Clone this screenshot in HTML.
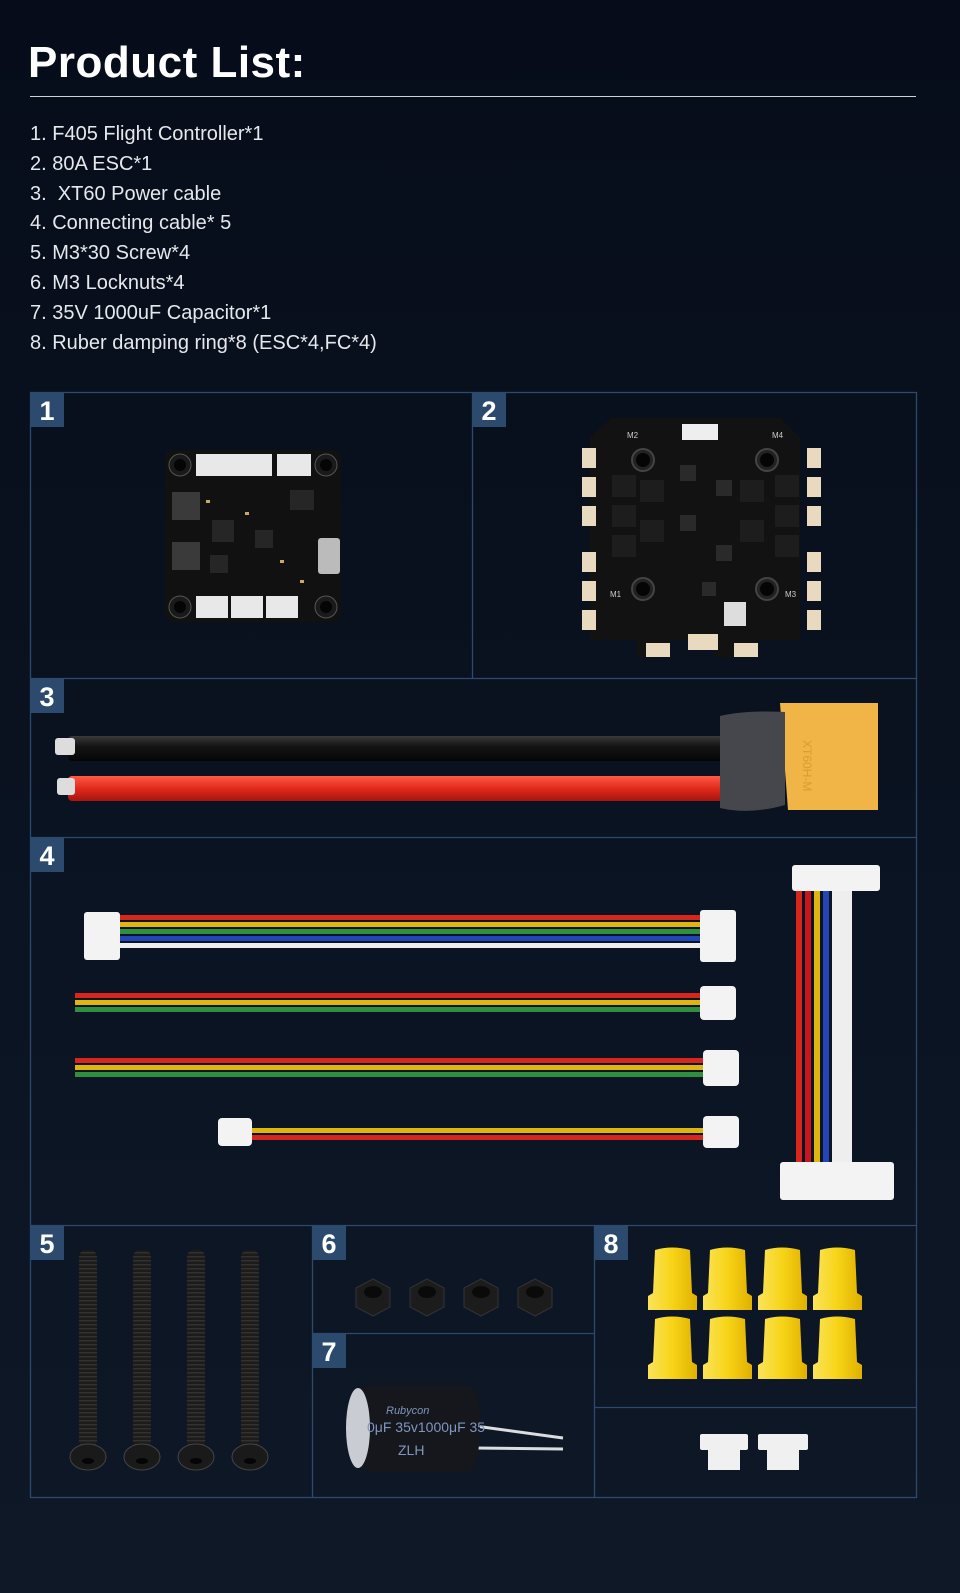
<!DOCTYPE html>
<html><head><meta charset="utf-8"><style>
html,body{margin:0;padding:0}
body{width:960px;height:1593px;background:linear-gradient(#060c1a,#0b1422 60%,#0e1827);font-family:"Liberation Sans",sans-serif;color:#fff;position:relative;overflow:hidden}
h1{position:absolute;left:28px;top:38px;margin:0;font-size:44px;font-weight:bold;letter-spacing:0.5px}
.rule{position:absolute;left:30px;top:96px;width:886px;height:1px;background:#cfd3d8}
ul{position:absolute;left:30px;top:120px;margin:0;padding:0;list-style:none;font-size:20px;color:#e6e8eb;line-height:29.8px}
svg{position:absolute;left:0;top:0}
</style></head><body>
<h1>Product List:</h1>
<div class="rule"></div>
<ul>
<li>1. F405 Flight Controller*1</li>
<li>2. 80A ESC*1</li>
<li>3.&nbsp; XT60 Power cable</li>
<li>4. Connecting cable* 5</li>
<li>5. M3*30 Screw*4</li>
<li>6. M3 Locknuts*4</li>
<li>7. 35V 1000uF Capacitor*1</li>
<li>8. Ruber damping ring*8 (ESC*4,FC*4)</li>
</ul>
<svg width="960" height="1593" viewBox="0 0 960 1593">
<defs>
<linearGradient id="bk" x1="0" y1="0" x2="0" y2="1"><stop offset="0" stop-color="#3a3a3a"/><stop offset=".4" stop-color="#151515"/><stop offset="1" stop-color="#050505"/></linearGradient>
<linearGradient id="rd" x1="0" y1="0" x2="0" y2="1"><stop offset="0" stop-color="#ff5a45"/><stop offset=".5" stop-color="#e2291b"/><stop offset="1" stop-color="#a5150c"/></linearGradient>
<linearGradient id="yl" x1="0" y1="0" x2="1" y2="0"><stop offset="0" stop-color="#fbe35a"/><stop offset=".5" stop-color="#f7d417"/><stop offset="1" stop-color="#e0b000"/></linearGradient>
<pattern id="thr" width="6" height="4" patternUnits="userSpaceOnUse"><rect width="6" height="4" fill="#1b1b1b"/><rect y="0" width="6" height="1.5" fill="#34312d"/></pattern>
</defs>
<g fill="none" stroke="#2c4a70" stroke-width="1.3">
<rect x="30.5" y="392.5" width="886" height="1105"/>
<line x1="30" y1="678.5" x2="916" y2="678.5"/>
<line x1="30" y1="837.5" x2="916" y2="837.5"/>
<line x1="30" y1="1225.5" x2="916" y2="1225.5"/>
<line x1="472.5" y1="392" x2="472.5" y2="678"/>
<line x1="312.5" y1="1225" x2="312.5" y2="1497"/>
<line x1="594.5" y1="1225" x2="594.5" y2="1497"/>
<line x1="312" y1="1333.5" x2="594" y2="1333.5"/>
<line x1="594" y1="1407.5" x2="916" y2="1407.5"/>
</g>
<g fill="#2c4a6e">
<rect x="31" y="393" width="33" height="34"/><rect x="473" y="393" width="33" height="34"/>
<rect x="31" y="679" width="33" height="34"/><rect x="31" y="838" width="33" height="34"/>
<rect x="31" y="1226" width="33" height="34"/><rect x="313" y="1226" width="33" height="34"/>
<rect x="313" y="1334" width="33" height="34"/><rect x="595" y="1226" width="33" height="34"/>
</g>
<g fill="#fff" font-size="27" font-weight="bold" text-anchor="middle">
<text x="47" y="420">1</text><text x="489" y="420">2</text><text x="47" y="706">3</text><text x="47" y="865">4</text>
<text x="47" y="1253">5</text><text x="329" y="1253">6</text><text x="329" y="1361">7</text><text x="611" y="1253">8</text>
</g>
<!-- FC board -->
<g>
<rect x="165" y="450" width="176" height="172" rx="8" fill="#111"/>
<g fill="#1a1a1a" stroke="#555"><circle cx="180" cy="465" r="11"/><circle cx="326" cy="465" r="11"/><circle cx="180" cy="607" r="11"/><circle cx="326" cy="607" r="11"/></g>
<g fill="#050505"><circle cx="180" cy="465" r="6"/><circle cx="326" cy="465" r="6"/><circle cx="180" cy="607" r="6"/><circle cx="326" cy="607" r="6"/></g>
<rect x="196" y="454" width="76" height="22" fill="#e8e8e8"/><rect x="277" y="454" width="34" height="22" fill="#e8e8e8"/>
<rect x="196" y="596" width="32" height="22" fill="#e8e8e8"/><rect x="231" y="596" width="32" height="22" fill="#e8e8e8"/><rect x="266" y="596" width="32" height="22" fill="#e8e8e8"/>
<rect x="172" y="492" width="28" height="28" fill="#3a3a3a"/><rect x="172" y="542" width="28" height="28" fill="#3a3a3a"/>
<rect x="318" y="538" width="22" height="36" rx="3" fill="#bbb"/>
<g fill="#262626"><rect x="212" y="520" width="22" height="22"/><rect x="255" y="530" width="18" height="18"/><rect x="290" y="490" width="24" height="20"/><rect x="210" y="555" width="18" height="18"/></g>
<g fill="#c9a86a"><rect x="206" y="500" width="4" height="3"/><rect x="245" y="512" width="4" height="3"/><rect x="280" y="560" width="4" height="3"/><rect x="300" y="580" width="4" height="3"/></g>
</g>
<!-- ESC -->
<g>
<path d="M611 418 H780 L800 438 V640 H755 V657 H715 V640 H670 V657 H637 V640 H590 V438 Z" fill="#121212"/>
<g fill="#e9d9bf"><rect x="582" y="448" width="14" height="20"/><rect x="582" y="477" width="14" height="20"/><rect x="582" y="506" width="14" height="20"/><rect x="582" y="552" width="14" height="20"/><rect x="582" y="581" width="14" height="20"/><rect x="582" y="610" width="14" height="20"/>
<rect x="807" y="448" width="14" height="20"/><rect x="807" y="477" width="14" height="20"/><rect x="807" y="506" width="14" height="20"/><rect x="807" y="552" width="14" height="20"/><rect x="807" y="581" width="14" height="20"/><rect x="807" y="610" width="14" height="20"/>
<rect x="646" y="643" width="24" height="14"/><rect x="734" y="643" width="24" height="14"/><rect x="688" y="634" width="30" height="16"/></g>
<rect x="682" y="424" width="36" height="16" fill="#eee"/>
<g fill="#222" stroke="#444" stroke-width="2"><circle cx="643" cy="460" r="11"/><circle cx="767" cy="460" r="11"/><circle cx="643" cy="589" r="11"/><circle cx="767" cy="589" r="11"/></g>
<g fill="#050505"><circle cx="643" cy="460" r="7"/><circle cx="767" cy="460" r="7"/><circle cx="643" cy="589" r="7"/><circle cx="767" cy="589" r="7"/></g>
<g fill="#1d1d1d"><rect x="612" y="475" width="24" height="22"/><rect x="612" y="505" width="24" height="22"/><rect x="612" y="535" width="24" height="22"/><rect x="775" y="475" width="24" height="22"/><rect x="775" y="505" width="24" height="22"/><rect x="775" y="535" width="24" height="22"/><rect x="640" y="480" width="24" height="22"/><rect x="740" y="480" width="24" height="22"/><rect x="640" y="520" width="24" height="22"/><rect x="740" y="520" width="24" height="22"/></g>
<g fill="#2a2a2a"><rect x="680" y="465" width="16" height="16"/><rect x="716" y="480" width="16" height="16"/><rect x="680" y="515" width="16" height="16"/><rect x="716" y="545" width="16" height="16"/><rect x="702" y="582" width="14" height="14"/></g>
<rect x="724" y="602" width="22" height="24" fill="#ddd"/>
<g fill="#ccc" font-size="8"><text x="627" y="438">M2</text><text x="772" y="438">M4</text><text x="610" y="597">M1</text><text x="785" y="597">M3</text></g>
</g>
<!-- XT60 cable -->
<rect x="68" y="736" width="657" height="25" rx="4" fill="url(#bk)"/>
<rect x="55" y="738" width="20" height="17" rx="3" fill="#ddd"/>
<rect x="68" y="776" width="657" height="25" rx="4" fill="url(#rd)"/>
<rect x="57" y="778" width="18" height="17" rx="3" fill="#ddd"/>
<path d="M780 703 H878 V810 H788 Z" fill="#f0b447"/>
<path d="M720 716 Q745 710 785 712 V805 Q750 815 720 808 Z" fill="#45474c"/>
<text transform="translate(803 740) rotate(90)" fill="#d99c30" font-size="12">XT60H-M</text>
<!-- connecting cables -->
<g>
<rect x="118" y="915" width="585" height="5" fill="#d7261b"/><rect x="118" y="922" width="585" height="5" fill="#e0b510"/><rect x="118" y="929" width="585" height="5" fill="#2f8f3e"/><rect x="118" y="936" width="585" height="5" fill="#2345b8"/><rect x="118" y="943" width="585" height="5" fill="#eeeeee"/>
<rect x="84" y="912" width="36" height="48" rx="3" fill="#f3f3f3"/><rect x="700" y="910" width="36" height="52" rx="3" fill="#f3f3f3"/>
<rect x="75" y="993" width="625" height="5" fill="#d7261b"/><rect x="75" y="1000" width="625" height="5" fill="#e0b510"/><rect x="75" y="1007" width="625" height="5" fill="#2f8f3e"/>
<rect x="700" y="986" width="36" height="34" rx="4" fill="#f3f3f3"/>
<rect x="75" y="1058" width="628" height="5" fill="#d7261b"/><rect x="75" y="1065" width="628" height="5" fill="#e0b510"/><rect x="75" y="1072" width="628" height="5" fill="#2f8f3e"/>
<rect x="703" y="1050" width="36" height="36" rx="4" fill="#f3f3f3"/>
<rect x="250" y="1128" width="455" height="5" fill="#e0b510"/><rect x="250" y="1135" width="455" height="5" fill="#d7261b"/>
<rect x="218" y="1118" width="34" height="28" rx="4" fill="#f3f3f3"/><rect x="703" y="1116" width="36" height="32" rx="4" fill="#f3f3f3"/>
<rect x="796" y="888" width="6" height="275" fill="#d7261b"/><rect x="805" y="888" width="6" height="275" fill="#c9151b"/><rect x="814" y="888" width="6" height="275" fill="#e0b510"/><rect x="823" y="888" width="6" height="275" fill="#2345b8"/><rect x="832" y="888" width="20" height="275" fill="#eeeeee"/>
<rect x="792" y="865" width="88" height="26" rx="3" fill="#f3f3f3"/>
<rect x="780" y="1162" width="114" height="38" rx="3" fill="#f3f3f3"/>
</g>
<!-- screws -->
<g>
<g fill="url(#thr)"><rect x="79" y="1250" width="18" height="198" rx="7"/><rect x="133" y="1250" width="18" height="198" rx="7"/><rect x="187" y="1250" width="18" height="198" rx="7"/><rect x="241" y="1250" width="18" height="198" rx="7"/></g>
<g fill="#1a1a1a" stroke="#444"><ellipse cx="88" cy="1457" rx="18" ry="13"/><ellipse cx="142" cy="1457" rx="18" ry="13"/><ellipse cx="196" cy="1457" rx="18" ry="13"/><ellipse cx="250" cy="1457" rx="18" ry="13"/></g>
<g fill="#050505"><ellipse cx="88" cy="1461" rx="6" ry="3"/><ellipse cx="142" cy="1461" rx="6" ry="3"/><ellipse cx="196" cy="1461" rx="6" ry="3"/><ellipse cx="250" cy="1461" rx="6" ry="3"/></g>
</g>
<!-- nuts -->
<g fill="#1c1c1c" stroke="#333">
<polygon points="373,1279 390,1288 390,1307 373,1316 356,1307 356,1288"/>
<polygon points="427,1279 444,1288 444,1307 427,1316 410,1307 410,1288"/>
<polygon points="481,1279 498,1288 498,1307 481,1316 464,1307 464,1288"/>
<polygon points="535,1279 552,1288 552,1307 535,1316 518,1307 518,1288"/>
</g>
<g fill="#0a0a0a"><ellipse cx="373" cy="1292" rx="9" ry="6"/><ellipse cx="427" cy="1292" rx="9" ry="6"/><ellipse cx="481" cy="1292" rx="9" ry="6"/><ellipse cx="535" cy="1292" rx="9" ry="6"/></g>
<!-- capacitor -->
<g>
<line x1="475" y1="1426" x2="563" y2="1438" stroke="#ddd" stroke-width="3"/>
<line x1="475" y1="1448" x2="563" y2="1449" stroke="#ddd" stroke-width="3"/>
<path d="M357 1398 Q360 1385 375 1385 H468 Q480 1387 480 1420 Q480 1470 468 1472 H375 Q360 1472 357 1458 Z" fill="#15171c"/>
<ellipse cx="358" cy="1428" rx="12" ry="40" fill="#c9ccd2"/>
<text x="386" y="1414" fill="#7f96c0" font-size="11" font-style="italic">Rubycon</text>
<text x="367" y="1432" fill="#7f96c0" font-size="14">0μF 35v1000μF 35</text>
<text x="398" y="1455" fill="#7f96c0" font-size="14">ZLH</text>
</g>
<!-- rings -->
<g fill="url(#yl)">
<g id="rr"><path d="M655 1250 Q672 1245 690 1250 L692 1293 L697 1296 V1310 H648 V1296 L653 1293 Z"/></g>
<use href="#rr" x="55"/><use href="#rr" x="110"/><use href="#rr" x="165"/>
<use href="#rr" y="69"/><use href="#rr" x="55" y="69"/><use href="#rr" x="110" y="69"/><use href="#rr" x="165" y="69"/>
</g>
<!-- small connectors -->
<g fill="#f0f0f0"><rect x="700" y="1434" width="48" height="16" rx="2"/><rect x="708" y="1448" width="32" height="22"/><rect x="758" y="1434" width="50" height="16" rx="2"/><rect x="767" y="1448" width="32" height="22"/></g>
</svg>
</body></html>
